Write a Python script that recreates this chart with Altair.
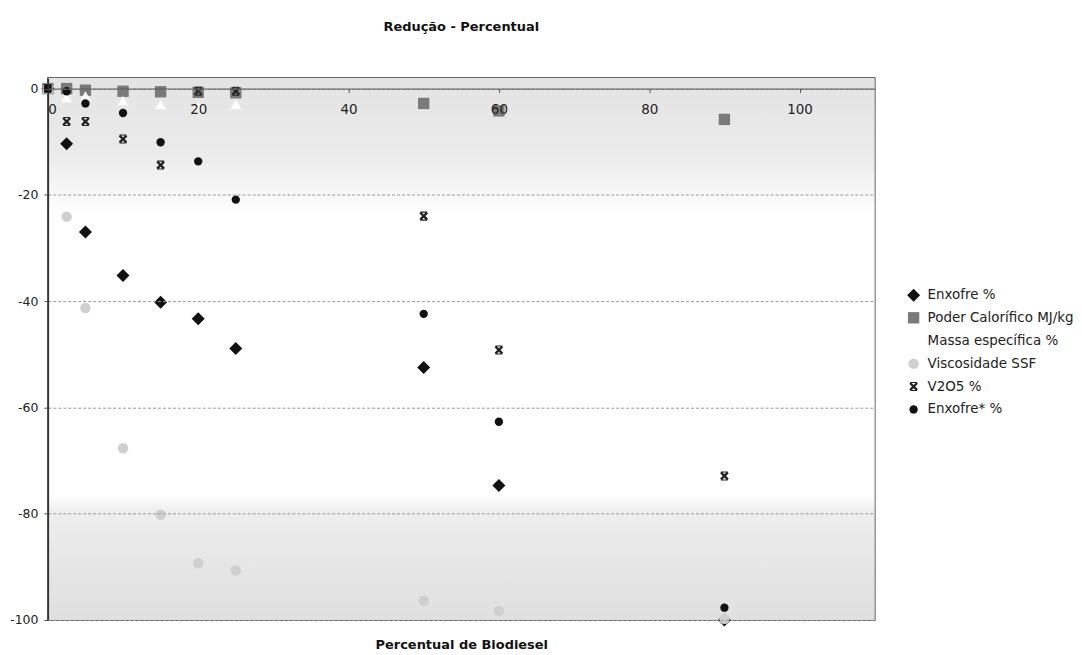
import altair as alt
import pandas as pd

# ---- data ----
biodiesel = [0, 2.5, 5, 10, 15, 20, 25, 50, 60, 90]
enxofre = [0, -10.4, -27.0, -35.2, -40.2, -43.3, -48.9, -52.5, -74.7, -100.0]
poder_calorifico = [0, 0.0, -0.3, -0.5, -0.6, -0.7, -0.8, -2.8, -4.2, -5.8]
massa_especifica = [0, -1.7, -1.4, -2.3, -3.0, -3.3, -3.0, None, None, None]
viscosidade = [0, -24.1, -41.3, -67.7, -80.2, -89.3, -90.7, -96.4, -98.3, -99.8]
v2o5 = [0, -6.2, -6.2, -9.5, -14.4, -0.5, -0.5, -24.0, -49.2, -72.9]
enxofre_star = [0, -0.5, -2.8, -4.6, -10.1, -13.7, -20.9, -42.4, -62.7, -97.7]

series_names = ["Enxofre %", "Poder Calorífico MJ/kg", "Massa específica %",
                "Viscosidade SSF", "V2O5 %", "Enxofre* %"]
series_values = [enxofre, poder_calorifico, massa_especifica, viscosidade, v2o5, enxofre_star]

x_ticks = [0, 20, 40, 60, 80, 100]
y_ticks = [0, -20, -40, -60, -80, -100]

rows = []
for i, (name, vals) in enumerate(zip(series_names, series_values)):
    for xv, yv in zip(biodiesel, vals):
        if yv is not None:
            rows.append({"serie": name, "biodiesel": xv, "reducao": yv, "idx": i})
df = pd.DataFrame(rows)

# ---- styling ----
W, H = 830, 544
Y_MIN, Y_MAX = -100, 2
X_MIN, X_MAX = 0, 110
axis_offset = -H * (0 - Y_MIN) / (Y_MAX - Y_MIN)  # put x axis at y = 0

star_path = ("M-1,-0.62L-0.62,-1L0,-0.38L0.62,-1L1,-0.62L0.38,0L1,0.62L0.62,1L0,0.38L-0.62,1L-1,0.62L-0.38,0Z"
             "M-0.8,-1.05L0.8,-1.05L0.8,-0.8L-0.8,-0.8Z"
             "M-0.8,0.8L0.8,0.8L0.8,1.05L-0.8,1.05Z")

colors = ["#111111", "#7a7a7a", "#ffffff", "#cfcfcf", "#222222", "#111111"]
shapes = ["diamond", "square", "triangle-up", "circle", star_path, "circle"]
sizes = [170, 130, 120, 110, 75, 70]

gradient = alt.LinearGradient(
    gradient="linear", x1=0, y1=0, x2=0, y2=1,
    stops=[
        alt.GradientStop(offset=0.0, color="#e3e3e3"),
        alt.GradientStop(offset=0.14, color="#ebebeb"),
        alt.GradientStop(offset=0.21, color="#f7f7f7"),
        alt.GradientStop(offset=0.25, color="#ffffff"),
        alt.GradientStop(offset=0.77, color="#ffffff"),
        alt.GradientStop(offset=0.80, color="#eeeeee"),
        alt.GradientStop(offset=0.90, color="#e6e6e6"),
        alt.GradientStop(offset=1.0, color="#e0e0e0"),
    ],
)

bg = alt.Chart(pd.DataFrame({"bg": [0]})).mark_rect(fill=gradient, strokeWidth=0).encode(
    x=alt.value(0), x2=alt.value(W), y=alt.value(0), y2=alt.value(H)
)

points = alt.Chart(df).mark_point(filled=True, opacity=1, strokeWidth=0).encode(
    x=alt.X("biodiesel:Q",
            scale=alt.Scale(domain=[X_MIN, X_MAX], nice=False, zero=False),
            axis=alt.Axis(values=x_ticks, orient="bottom", offset=axis_offset, grid=False,
                          tickSize=4, labelPadding=10, labelFontSize=13.5, labelColor="#222",
                          domainColor="#555", tickColor="#555", zindex=1,
                          title="Percentual de Biodiesel", titleFontSize=13,
                          titleFontWeight="bold", titleColor="#111",
                          titleY=-axis_offset + 25, titleBaseline="middle")),
    y=alt.Y("reducao:Q",
            scale=alt.Scale(domain=[Y_MIN, Y_MAX], nice=False, zero=False),
            axis=alt.Axis(values=y_ticks, grid=True, gridDash=[3, 2], gridColor="#999",
                          gridWidth=1, tickSize=4, labelPadding=6, labelFontSize=12.5,
                          labelColor="#222", domainColor="#333", domainWidth=1.5,
                          tickColor="#555", title=None, zindex=1,
                          labelExpr="datum.value < 0 ? '-' + abs(datum.value) : '' + datum.value")),
    color=alt.Color("serie:N", scale=alt.Scale(domain=series_names, range=colors),
                    legend=alt.Legend(title=None, orient="none", legendX=862, legendY=211,
                                      labelFontSize=13.5, labelColor="#222", symbolSize=30,
                                      symbolStrokeWidth=0, rowPadding=8, padding=0,
                                      labelOffset=7)),
    shape=alt.Shape("serie:N", scale=alt.Scale(domain=series_names, range=shapes)),
    size=alt.Size("serie:N", scale=alt.Scale(type="ordinal", domain=series_names, range=sizes),
                  legend=None),
    order=alt.Order("idx:Q"),
)

chart = alt.layer(bg, points).properties(
    width=W, height=H,
    autosize="none",
    padding={"left": 40, "top": 69, "right": 200, "bottom": 34},
    title=alt.TitleParams("Redução - Percentual", fontSize=13, fontWeight="bold",
                          color="#111", anchor="middle", frame="group", offset=44),
).configure(
    font="DejaVu Sans"
).configure_view(
    stroke="#333", strokeWidth=1.5
)

chart.save("out.html", embed_options={"renderer": "svg", "actions": False})
